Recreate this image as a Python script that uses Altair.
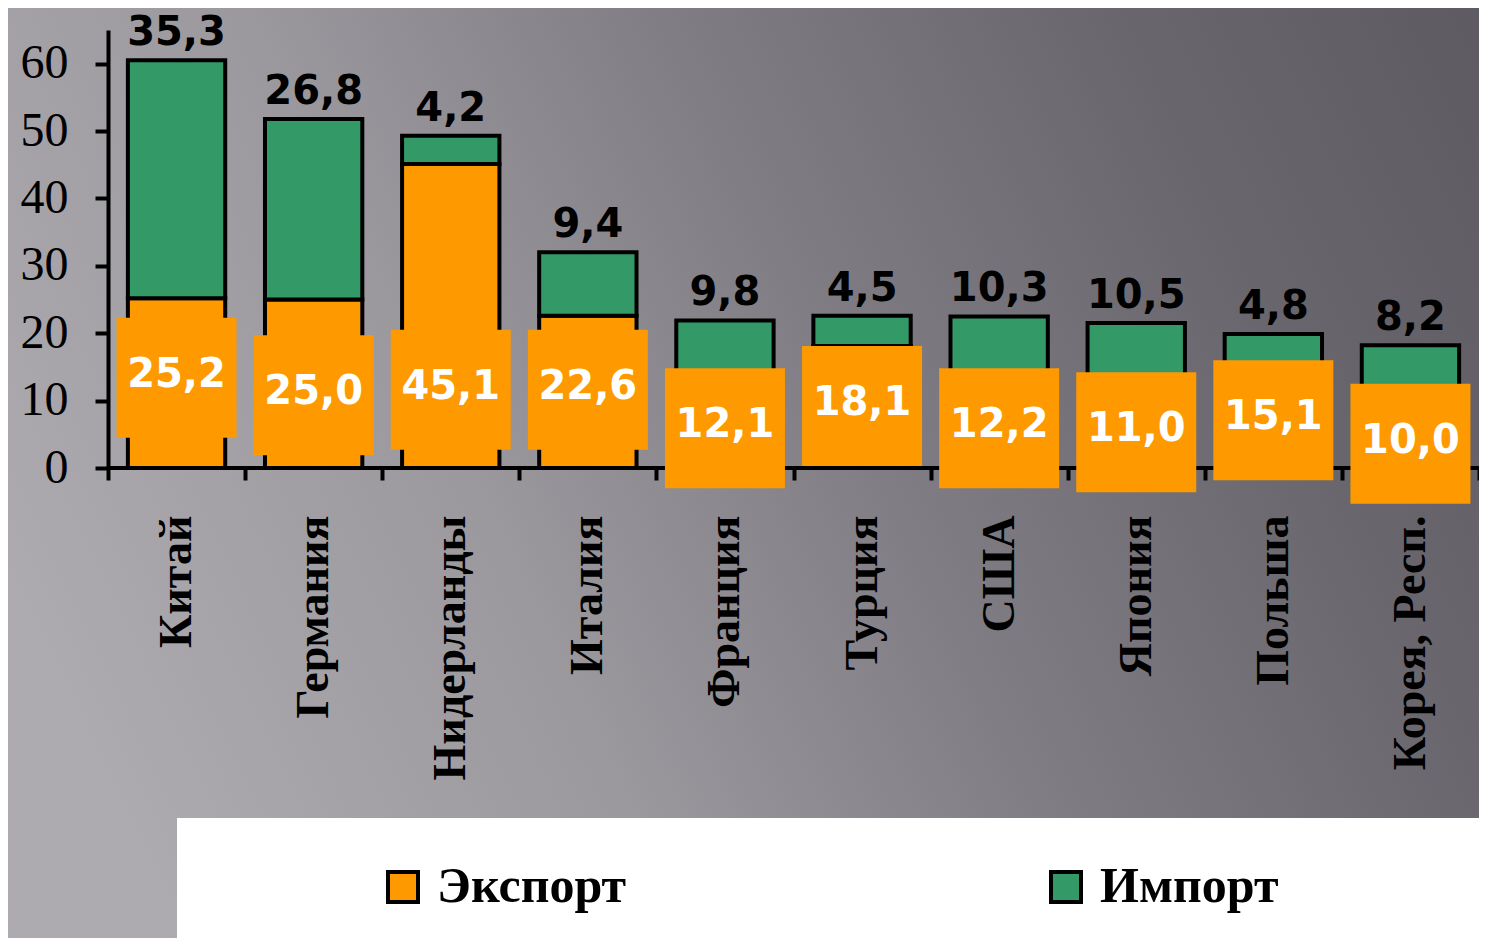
import altair as alt
import pandas as pd

countries = ["Китай", "Германия", "Нидерланды", "Италия", "Франция",
             "Турция", "США", "Япония", "Польша", "Корея, Респ."]
export_vals = [25.2, 25.0, 45.1, 22.6, 12.1, 18.1, 12.2, 11.0, 15.1, 10.0]
import_vals = [35.3, 26.8, 4.2, 9.4, 9.8, 4.5, 10.3, 10.5, 4.8, 8.2]
# vertical centre (in axis units) of the orange export label boxes
export_label_pos = [13.4, 10.8, 11.6, 11.6, 5.9, 9.2, 5.9, 5.3, 7.1, 3.6]
series = ["Экспорт", "Импорт"]
colors = ["#FF9900", "#339966"]
y_ticks = [0, 10, 20, 30, 40, 50, 60]
title_text = "(миллиардов долларов США)"

W, H = 1371, 438

long_df = pd.DataFrame({
    "country": countries * 2,
    "series": [series[0]] * len(countries) + [series[1]] * len(countries),
    "value": export_vals + import_vals,
    "ord": [0] * len(countries) + [1] * len(countries),
})
wide_df = pd.DataFrame({
    "country": countries,
    "export": export_vals,
    "import": import_vals,
    "pos": export_label_pos,
})
one_row = pd.DataFrame({"a": [0]})

x_axis = alt.Axis(
    title=None, labelAngle=-90, domain=False, tickBand="extent",
    ticks=True, tickSize=12, tickWidth=4, tickColor="black",
    labelFont="Liberation Serif", labelFontWeight="bold", labelFontSize=46,
    labelColor="black", labelPadding=35, labelLimit=500, zindex=1,
)
y_axis = alt.Axis(
    title=None, values=y_ticks, grid=False, domainWidth=4, domainColor="black",
    tickSize=13, tickWidth=4, tickColor="black",
    labelFont="Liberation Serif", labelFontSize=48, labelColor="black",
    labelPadding=27, zindex=1,
)
x_enc = alt.X("country:N", sort=countries,
              scale=alt.Scale(paddingInner=0, paddingOuter=0), axis=x_axis)
y_scale = alt.Scale(domain=[0, 65])

# slide background (decorative gradient) and the white legend panel
background = alt.Chart(one_row).mark_rect(
    fill=alt.Gradient(
        gradient="linear",
        stops=[
            alt.GradientStop(color="#adabb0", offset=0),
            alt.GradientStop(color="#9b999e", offset=0.3),
            alt.GradientStop(color="#7f7d83", offset=0.55),
            alt.GradientStop(color="#69676d", offset=0.8),
            alt.GradientStop(color="#5e5c62", offset=1),
        ],
        x1=0, y1=0.6, x2=1, y2=0.3,
    )
).encode(
    x=alt.value(-110), x2=alt.value(W + 110),
    y=alt.value(-40), y2=alt.value(H + 520),
)
legend_panel = alt.Chart(one_row).mark_rect(fill="white").encode(
    x=alt.value(69), x2=alt.value(W + 60),
    y=alt.value(788), y2=alt.value(H + 520),
)

bars = alt.Chart(long_df).mark_bar(
    stroke="black", strokeWidth=4, width=alt.RelativeBandSize(0.71)
).encode(
    x=x_enc,
    y=alt.Y("value:Q", stack="zero", scale=y_scale, axis=y_axis),
    color=alt.Color(
        "series:N",
        scale=alt.Scale(domain=series, range=colors),
        legend=alt.Legend(
            title=" ", titleOrient="left", titleFontSize=1, titlePadding=157,
            orient="none", legendX=69, legendY=788, direction="horizontal",
            columns=2, columnPadding=414, padding=44,
            symbolType="square", symbolSize=900, symbolStrokeColor="black",
            symbolStrokeWidth=4, labelFont="Liberation Serif",
            labelFontWeight="bold", labelFontSize=50, labelColor="black",
            labelOffset=9, labelLimit=1000, zindex=1,
        ),
    ),
    order=alt.Order("ord:Q"),
)

baseline = alt.Chart(one_row).mark_rule(color="black", strokeWidth=4).encode(
    y=alt.datum(0)
)

import_labels = alt.Chart(wide_df).transform_calculate(
    total="datum.export + datum.import",
    lbl="replace(format(datum.import, '.1f'), '.', ',')",
).mark_text(
    font="DejaVu Sans", fontWeight="bold", fontSize=40, color="black",
    baseline="alphabetic", dy=-15,
).encode(
    x=x_enc,
    y=alt.Y("total:Q", scale=y_scale, axis=y_axis),
    text="lbl:N",
)

export_boxes = alt.Chart(wide_df).mark_square(
    size=14400, color="#FF9900", opacity=1, filled=True
).encode(
    x=x_enc,
    y=alt.Y("pos:Q", scale=y_scale, axis=y_axis),
)

export_labels = alt.Chart(wide_df).transform_calculate(
    lbl="replace(format(datum.export, '.1f'), '.', ',')",
).mark_text(
    font="DejaVu Sans", fontWeight="bold", fontSize=40, color="white",
    baseline="middle", dy=-3,
).encode(
    x=x_enc,
    y=alt.Y("pos:Q", scale=y_scale, axis=y_axis),
    text="lbl:N",
)

chart = alt.layer(
    background, legend_panel, bars, baseline, import_labels, export_boxes, export_labels
).properties(
    width=W, height=H,
    autosize=alt.AutoSizeParams(type="none"),
    padding={"left": 100, "top": 22, "right": 0, "bottom": 470},
    title=alt.TitleParams(
        title_text, font="Liberation Serif", fontStyle="italic", fontSize=48,
        fontWeight="normal", color="black", anchor="middle", baseline="alphabetic",
        frame="group", offset=21, dx=22, zindex=1,
    ),
).configure(
    background="#8d8b90",
).configure_view(stroke=None)

chart.save("out.html", embed_options={"renderer": "svg", "actions": False})
